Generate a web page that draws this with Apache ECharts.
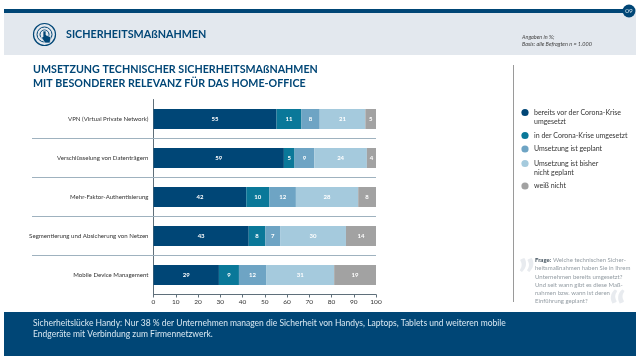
<!DOCTYPE html>
<html><head><meta charset="utf-8">
<style>html,body{margin:0;padding:0;background:#fff}#c{width:640px;height:360px}</style>
<script src="https://cdn.jsdelivr.net/npm/echarts@6/dist/echarts.min.js"></script>
</head><body><div id="c"></div>
<script>
const categories = ['VPN (Virtual Private Network)','Verschlüsselung von Datenträgern','Mehr-Faktor-Authentisierung','Segmentierung und Absicherung von Netzen','Mobile Device Management'];
const seriesNames = ['bereits vor der Corona-Krise umgesetzt','in der Corona-Krise umgesetzt','Umsetzung ist geplant','Umsetzung ist bisher nicht geplant','weiß nicht'];
const legendLines = [['bereits vor der Corona-Krise','umgesetzt'],['in der Corona-Krise umgesetzt'],['Umsetzung ist geplant'],['Umsetzung ist bisher','nicht geplant'],['weiß nicht']];
const legendY = [112.5,135.5,149,163.5,186];
const colors = ['#004676','#0a7899','#6ea4c4','#a5cadd','#a2a2a2'];
const before = [55.3,58.6,41.7,42.8,29.4];
const during = [11.2,4.8,10.4,7.5,9.0];
const planned = [8.2,8.9,11.9,6.6,12.2];
const notPlanned = [20.5,23.6,28.0,29.6,30.6];
const unknown = [4.8,4.1,8.0,13.5,18.8];
const seriesValues = [before,during,planned,notPlanned,unknown];
const separatorsY = [138.5,177.5,216.5,255.5];
const frage = ['Welche technischen Sicher-','heitsmaßnahmen haben Sie in Ihrem','Unternehmen bereits umgesetzt?','Und seit wann gibt es diese Maß-','nahmen bzw. wann ist deren','Einführung geplant?'];
const F = 'Lato,"Open Sans",sans-serif';
const navy = '#004676';
const g = [];
g.push({type:'rect',shape:{x:4,y:13,width:632,height:42},style:{fill:'#e3e8ee'},z:0});
g.push({type:'rect',shape:{x:4,y:9,width:625,height:4},style:{fill:navy},z:1});
g.push({type:'circle',shape:{cx:629,cy:11,r:6.5},style:{fill:navy},z:2});
g.push({type:'text',x:629,y:11,style:{text:'09',fill:'#cfe0ea',font:'6.5px '+F,align:'center',verticalAlign:'middle'},z:3});
[[11,1.2],[7.5,1],[4.5,1]].forEach(a=>g.push({type:'circle',shape:{cx:44.5,cy:34.5,r:a[0]},style:{fill:'none',stroke:navy,lineWidth:a[1]},z:2}));
g.push({type:'polygon',shape:{points:[[43,31],[46,31],[46,35],[51,37],[50,43],[45,43],[41,37],[43,37]]},style:{fill:navy,stroke:'#e3e8ee',lineWidth:0.7},z:3});
g.push({type:'text',x:66,y:34.5,style:{text:'SICHERHEITSMAßNAHMEN',fill:navy,font:'bold 10.75px '+F,verticalAlign:'middle'},z:2});
g.push({type:'text',x:522,y:37,style:{text:'Angaben in %;',fill:'#444',font:'italic 5.5px '+F,verticalAlign:'middle'},z:2});
g.push({type:'text',x:522,y:44,style:{text:'Basis: alle Befragten n = 1.000',fill:'#444',font:'italic 5.5px '+F,verticalAlign:'middle'},z:2});
g.push({type:'text',x:33,y:70,style:{text:'UMSETZUNG TECHNISCHER SICHERHEITSMAßNAHMEN',fill:navy,font:'bold 10.7px '+F,verticalAlign:'middle'},z:2});
g.push({type:'text',x:33,y:83.5,style:{text:'MIT BESONDERER RELEVANZ FÜR DAS HOME-OFFICE',fill:navy,font:'bold 10.7px '+F,verticalAlign:'middle'},z:2});
g.push({type:'line',shape:{x1:513.5,y1:65,x2:513.5,y2:302},style:{stroke:'#9a9a9a',lineWidth:1},z:1});
separatorsY.forEach(y=>g.push({type:'line',shape:{x1:32,y1:y,x2:376,y2:y},style:{stroke:'#9fb2bf',lineWidth:1},z:1}));
legendLines.forEach((lines,i)=>{
  g.push({type:'circle',shape:{cx:525,cy:legendY[i],r:3.6},style:{fill:colors[i]},z:2});
  lines.forEach((t,j)=>g.push({type:'text',x:534,y:legendY[i]+j*9,style:{text:t,fill:'#333',font:'7px '+F,verticalAlign:'middle'},z:2}));
});
g.push({type:'text',x:518,y:278,style:{text:'”',fill:'#e8ebef',font:'bold 44px '+F,verticalAlign:'middle'},z:1});
g.push({type:'text',x:609,y:310,style:{text:'“',fill:'#e8ebef',font:'bold 44px '+F,verticalAlign:'middle'},z:1});
frage.forEach((t,i)=>{
  if(i===0) g.push({type:'text',x:535,y:260,style:{text:'Frage:',fill:'#40505c',font:'bold 6px '+F,verticalAlign:'middle'},z:2});
  g.push({type:'text',x:i===0?553:535,y:260+i*8.3,style:{text:t,fill:'#939ca3',font:'6px '+F,verticalAlign:'middle'},z:2});
});
g.push({type:'rect',shape:{x:4,y:312,width:632,height:44},style:{fill:navy},z:1});
g.push({type:'text',x:33,y:323,style:{text:'Sicherheitslücke Handy: Nur 38 % der Unternehmen managen die Sicherheit von Handys, Laptops, Tablets und weiteren mobile',fill:'#d8e8f2',font:'8.5px '+F,verticalAlign:'middle'},z:2});
g.push({type:'text',x:33,y:334.5,style:{text:'Endgeräte mit Verbindung zum Firmennetzwerk.',fill:'#d8e8f2',font:'8.5px '+F,verticalAlign:'middle'},z:2});
const chart = echarts.init(document.getElementById('c'),null,{renderer:'canvas'});
chart.setOption({
  animation:false,
  backgroundColor:'#fff',
  graphic:g,
  grid:{left:153.5,top:99.5,width:222.5,height:195,containLabel:false},
  xAxis:{type:'value',min:0,max:100,interval:10,
    axisLine:{show:true,lineStyle:{color:'#5f6f7a',width:1}},
    axisTick:{show:true,length:3,lineStyle:{color:'#5f6f7a'}},
    splitLine:{show:false},
    axisLabel:{color:'#333',fontSize:6.5,fontFamily:F,margin:4}},
  yAxis:{type:'category',inverse:true,data:categories,
    axisLine:{show:true,lineStyle:{color:'#5f6f7a',width:1}},
    axisTick:{show:false},splitLine:{show:false},
    axisLabel:{color:'#333',fontSize:6.1,fontFamily:F,margin:5}},
  series:seriesNames.map((n,i)=>({
    name:n,type:'bar',stack:'total',barWidth:20,data:seriesValues[i],
    itemStyle:{color:colors[i]},
    label:{show:true,position:'inside',color:'#fff',fontSize:6,fontWeight:'bold',fontFamily:F,formatter:p=>Math.round(p.value)}
  }))
});
</script></body></html>
